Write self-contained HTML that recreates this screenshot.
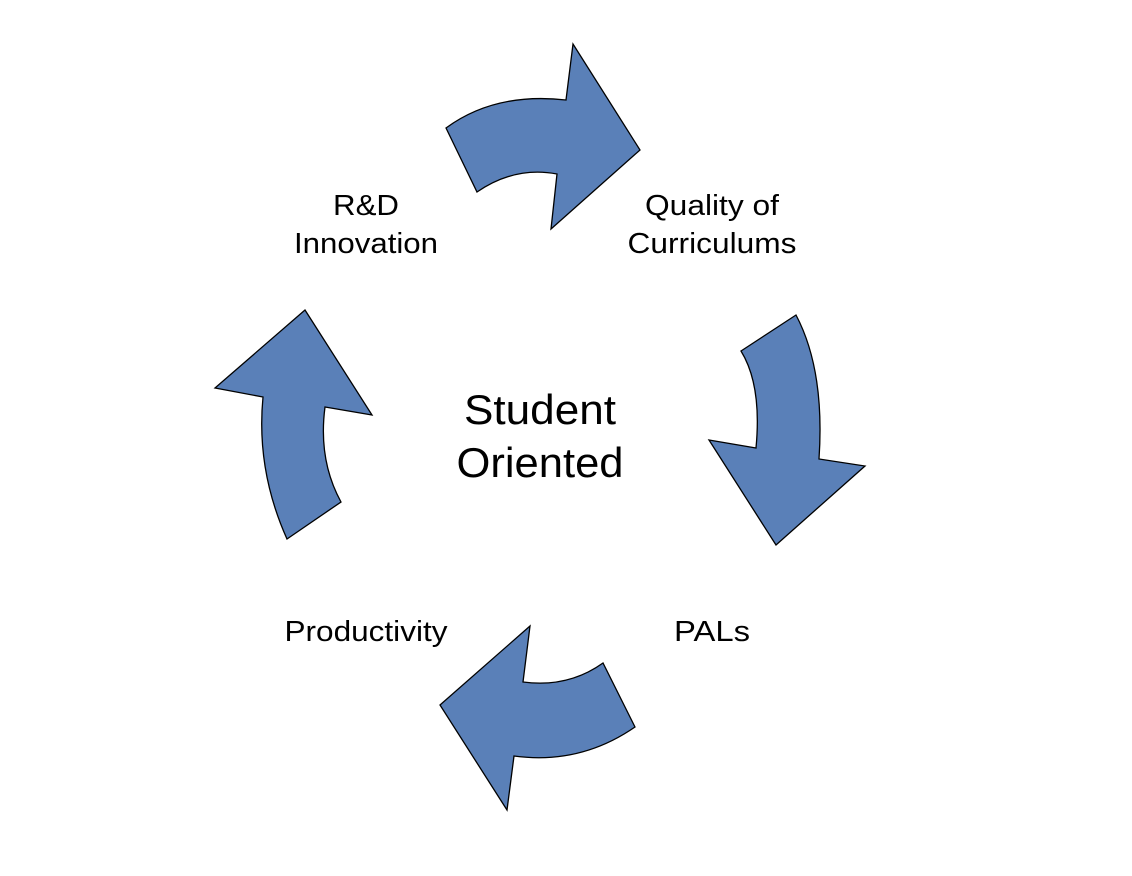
<!DOCTYPE html>
<html><head><style>
html,body{margin:0;padding:0;background:#fff;width:1132px;height:876px;overflow:hidden}
svg{display:block}
text{font-family:"Liberation Sans",sans-serif;fill:#000}
</style></head><body>
<svg width="1132" height="876" viewBox="0 0 1132 876">
<g fill="#5a80b8" stroke="#000" stroke-width="1.3" stroke-linejoin="miter">
<path d="M446,128 Q495,92 566,100 L573,44 L640,150 L551,229 L557,174 Q515,166 477,192 Z"/>
<path d="M741,351 L796,315 Q825,370 819,459 L865,466 L776,545 L709,440 L756,448 Q762,385 741,351 Z"/>
<path d="M635,727 L603,663 Q568,688 523,682 L530,626 L440,705 L507,810 L514,756 Q580,765 635,727 Z"/>
<path d="M287,539 L341,502 Q318,460 325,407 L372,415 L305,310 L215,388 L263,397 Q256,470 287,539 Z"/>
</g>
<g font-size="29" text-anchor="middle">
<text x="366" y="215" textLength="66" lengthAdjust="spacingAndGlyphs">R&amp;D</text>
<text x="366" y="253" textLength="144" lengthAdjust="spacingAndGlyphs">Innovation</text>
<text x="712" y="215" textLength="134" lengthAdjust="spacingAndGlyphs">Quality of</text>
<text x="712" y="253" textLength="169" lengthAdjust="spacingAndGlyphs">Curriculums</text>
<text x="712" y="641" textLength="76" lengthAdjust="spacingAndGlyphs">PALs</text>
<text x="366" y="641" textLength="163" lengthAdjust="spacingAndGlyphs">Productivity</text>
</g>
<g font-size="42" text-anchor="middle">
<text x="540" y="424" textLength="152" lengthAdjust="spacingAndGlyphs">Student</text>
<text x="540" y="477" textLength="167" lengthAdjust="spacingAndGlyphs">Oriented</text>
</g>
</svg>
</body></html>
